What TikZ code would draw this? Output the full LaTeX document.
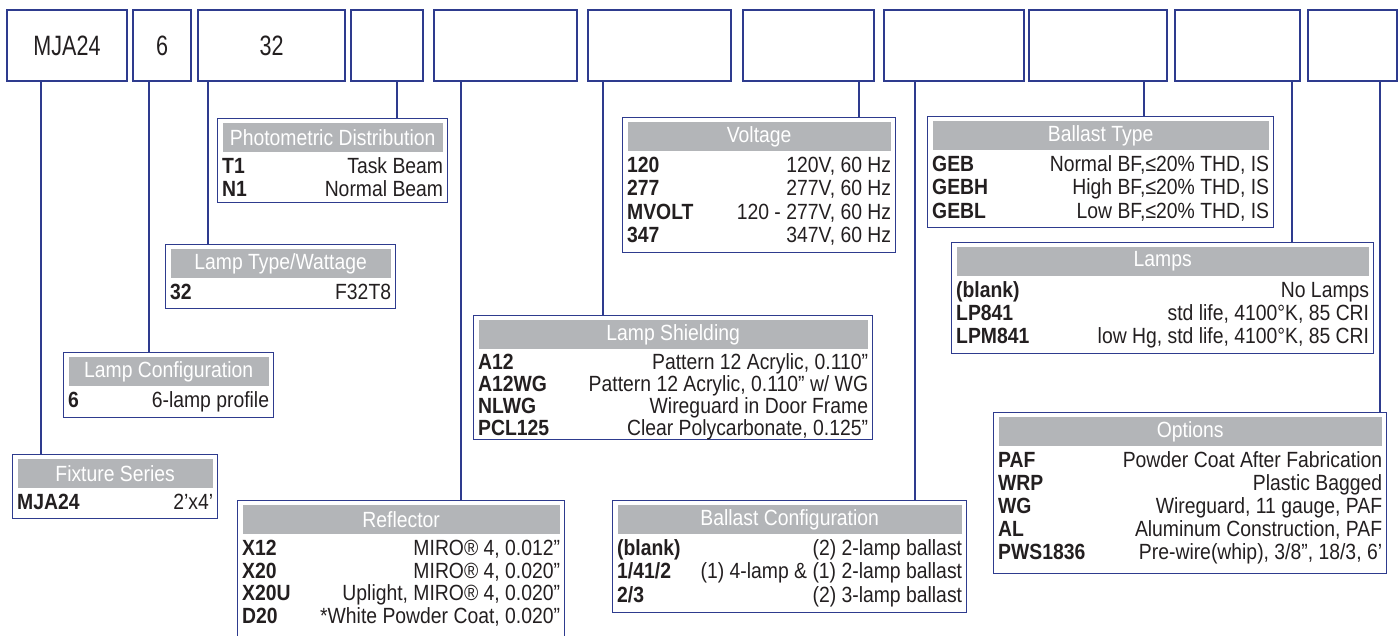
\documentclass[tikz,border=0pt]{standalone}
\usepackage{fontspec}
\setmainfont{Liberation Sans}[FakeStretch=0.88]
\newfontfamily\partfont{Liberation Sans}[FakeStretch=0.77]
\newcommand\tabtext{\fontsize{22}{24}\selectfont}

\definecolor{frame}{HTML}{2E3B8E}
\definecolor{headgrey}{HTML}{B3B5B8}
\definecolor{ink}{HTML}{231F20}

\begin{document}
\begin{tikzpicture}[
  x=1pt, y=-1pt,
  part/.style={draw=frame, line width=2.6pt, minimum height=71pt, inner sep=0pt, text=ink, font=\partfont\fontsize{28}{30}\selectfont},
  tab/.style={draw=frame, line width=1.3pt, inner sep=0pt, anchor=north west},
  head/.style={fill=headgrey, text=white, inner sep=0pt, minimum height=29pt, anchor=north, font=\tabtext},
  code/.style={anchor=base west, inner sep=0pt, text=ink, font=\tabtext\bfseries},
  desc/.style={anchor=base east, inner sep=0pt, text=ink, font=\tabtext},
  link/.style={draw=frame, line width=1.3pt}
]
  \useasboundingbox (0,0) rectangle (1399,636);

  % Order code boxes along the top
  \foreach \n/\l/\r/\t in {1/7/127/MJA24, 2/133/191/6, 3/198/345/32, 4/351/423/, 5/434/577/,
      6/588/731/, 7/743/874/, 8/884/1024/, 9/1029/1167/, 10/1175/1300/}
    \node[part, minimum width={(\r-\l)*1pt}] (s\n) at ({(\l+\r)/2}, 45.5) {\t};
  \node[part, line width=2.9pt, minimum width=89pt] (s11) at (1352.5, 45.5) {};

  % Fixture Series
  \node[tab, minimum width=205pt, minimum height=64pt] (fix) at (12,454) {};
  \node[head, minimum width=195pt] (fixh) at ([yshift=-5pt]fix.north) {Fixture Series};
  \foreach \c/\d [count=\i] in {MJA24/2’x4’} {
    \path (fixh.south -| fix.west) ++(5, 21+23*\i-23) node[code] (fixc\i) {\c};
    \path (fixh.south -| fix.east) ++(-5, 21+23*\i-23) node[desc] (fixd\i) {\d};
  }

  % Lamp Configuration
  \node[tab, minimum width=210pt, minimum height=65pt] (cfg) at (63,352) {};
  \node[head, minimum width=200pt] (cfgh) at ([yshift=-5pt]cfg.north) {Lamp Configuration};
  \foreach \c/\d [count=\i] in {6/6-lamp profile} {
    \path (cfgh.south -| cfg.west) ++(5, 21+23*\i-23) node[code] (cfgc\i) {\c};
    \path (cfgh.south -| cfg.east) ++(-5, 21+23*\i-23) node[desc] (cfgd\i) {\d};
  }

  % Lamp Type/Wattage
  \node[tab, minimum width=230pt, minimum height=64pt] (lamp) at (165,244) {};
  \node[head, minimum width=220pt] (lamph) at ([yshift=-5pt]lamp.north) {Lamp Type/Wattage};
  \foreach \c/\d [count=\i] in {32/F32T8} {
    \path (lamph.south -| lamp.west) ++(5, 21+23*\i-23) node[code] (lampc\i) {\c};
    \path (lamph.south -| lamp.east) ++(-5, 21+23*\i-23) node[desc] (lampd\i) {\d};
  }

  % Photometric Distribution
  \node[tab, minimum width=230pt, minimum height=84pt] (photo) at (217,118) {};
  \node[head, minimum width=220pt] (photoh) at ([yshift=-5pt]photo.north) {Photometric Distribution};
  \foreach \c/\d [count=\i] in {T1/Task Beam, N1/Normal Beam} {
    \path (photoh.south -| photo.west) ++(5, 21+23*\i-23) node[code] (photoc\i) {\c};
    \path (photoh.south -| photo.east) ++(-5, 21+23*\i-23) node[desc] (photod\i) {\d};
  }

  % Reflector (runs off the bottom edge)
  \node[tab, minimum width=327pt, minimum height=150pt] (refl) at (237,500) {};
  \node[head, minimum width=317pt] (reflh) at ([yshift=-5pt]refl.north) {Reflector};
  \foreach \c/\d [count=\i] in {{X12/MIRO® 4, 0.012”}, {X20/MIRO® 4, 0.020”},
      {X20U/Uplight, MIRO® 4, 0.020”}, {D20/*White Powder Coat, 0.020”}} {
    \path (reflh.south -| refl.west) ++(5, 21+22.7*\i-22.7) node[code] (reflc\i) {\c};
    \path (reflh.south -| refl.east) ++(-5, 21+22.7*\i-22.7) node[desc] (refld\i) {\d};
  }

  % Lamp Shielding
  \node[tab, minimum width=399pt, minimum height=124pt] (shield) at (473,315) {};
  \node[head, minimum width=389pt] (shieldh) at ([yshift=-5pt]shield.north) {Lamp Shielding};
  \foreach \c/\d [count=\i] in {{A12/Pattern 12 Acrylic, 0.110”}, {A12WG/{Pattern 12 Acrylic, 0.110” w/ WG}},
      {NLWG/Wireguard in Door Frame}, {PCL125/Clear Polycarbonate, 0.125”}} {
    \path (shieldh.south -| shield.west) ++(5, 20+22*\i-22) node[code] (shieldc\i) {\c};
    \path (shieldh.south -| shield.east) ++(-5, 20+22*\i-22) node[desc] (shieldd\i) {\d};
  }

  % Voltage
  \node[tab, minimum width=273pt, minimum height=135pt] (volt) at (622,117) {};
  \node[head, minimum width=263pt] (volth) at ([yshift=-5pt]volt.north) {Voltage};
  \foreach \c/\d [count=\i] in {{120/120V, 60 Hz}, {277/277V, 60 Hz}, {MVOLT/120 - 277V, 60 Hz}, {347/347V, 60 Hz}} {
    \path (volth.south -| volt.west) ++(5, 21+23.5*\i-23.5) node[code] (voltc\i) {\c};
    \path (volth.south -| volt.east) ++(-5, 21+23.5*\i-23.5) node[desc] (voltd\i) {\d};
  }

  % Ballast Configuration
  \node[tab, minimum width=354pt, minimum height=112pt] (bcfg) at (612,500) {};
  \node[head, minimum width=344pt] (bcfgh) at ([yshift=-5pt]bcfg.north) {Ballast Configuration};
  \foreach \c/\d [count=\i] in {(blank)/(2) 2-lamp ballast, {1/41/2}/(1) 4-lamp \& (1) 2-lamp ballast, {2/3}/(2) 3-lamp ballast} {
    \path (bcfgh.south -| bcfg.west) ++(5, 21+23.5*\i-23.5) node[code] (bcfgc\i) {\c};
    \path (bcfgh.south -| bcfg.east) ++(-5, 21+23.5*\i-23.5) node[desc] (bcfgd\i) {\d};
  }

  % Ballast Type
  \node[tab, minimum width=346pt, minimum height=111pt] (btype) at (927,116) {};
  \node[head, minimum width=336pt] (btypeh) at ([yshift=-5pt]btype.north) {Ballast Type};
  \foreach \c/\d [count=\i] in {{GEB/Normal BF,≤20\% THD, IS}, {GEBH/High BF,≤20\% THD, IS}, {GEBL/Low BF,≤20\% THD, IS}} {
    \path (btypeh.south -| btype.west) ++(5, 21+23.5*\i-23.5) node[code] (btypec\i) {\c};
    \path (btypeh.south -| btype.east) ++(-5, 21+23.5*\i-23.5) node[desc] (btyped\i) {\d};
  }

  % Lamps
  \node[tab, minimum width=422pt, minimum height=111pt] (lamps) at (951,242) {};
  \node[head, minimum width=412pt] (lampsh) at ([yshift=-5pt]lamps.north) {Lamps};
  \foreach \c/\d [count=\i] in {(blank)/No Lamps, {LP841/std life, 4100°K, 85 CRI}, {LPM841/low Hg, std life, 4100°K, 85 CRI}} {
    \path (lampsh.south -| lamps.west) ++(5, 21+23*\i-23) node[code] (lampsc\i) {\c};
    \path (lampsh.south -| lamps.east) ++(-5, 21+23*\i-23) node[desc] (lampsd\i) {\d};
  }

  % Options
  \node[tab, minimum width=393pt, minimum height=161pt] (opt) at (993,412) {};
  \node[head, minimum width=383pt] (opth) at ([yshift=-5pt]opt.north) {Options};
  \foreach \c/\d [count=\i] in {PAF/Powder Coat After Fabrication, WRP/Plastic Bagged, {WG/Wireguard, 11 gauge, PAF},
      {AL/Aluminum Construction, PAF}, {PWS1836/{Pre-wire(whip), 3/8”, 18/3, 6’}}} {
    \path (opth.south -| opt.west) ++(5, 21+23*\i-23) node[code] (optc\i) {\c};
    \path (opth.south -| opt.east) ++(-5, 21+23*\i-23) node[desc] (optd\i) {\d};
  }

  % Leader lines from each code box down to its table
  \foreach \a/\b/\x in {s1/fix/41, s2/cfg/149, s3/lamp/208, s4/photo/397, s5/refl/461, s6/shield/603,
      s7/volt/859, s8/bcfg/915, s9/btype/1144, s10/lamps/1292, s11/opt/1380}
    \draw[link] (\a.south -| \x,0) -- (\b.north -| \x,0);

\end{tikzpicture}
\end{document}
